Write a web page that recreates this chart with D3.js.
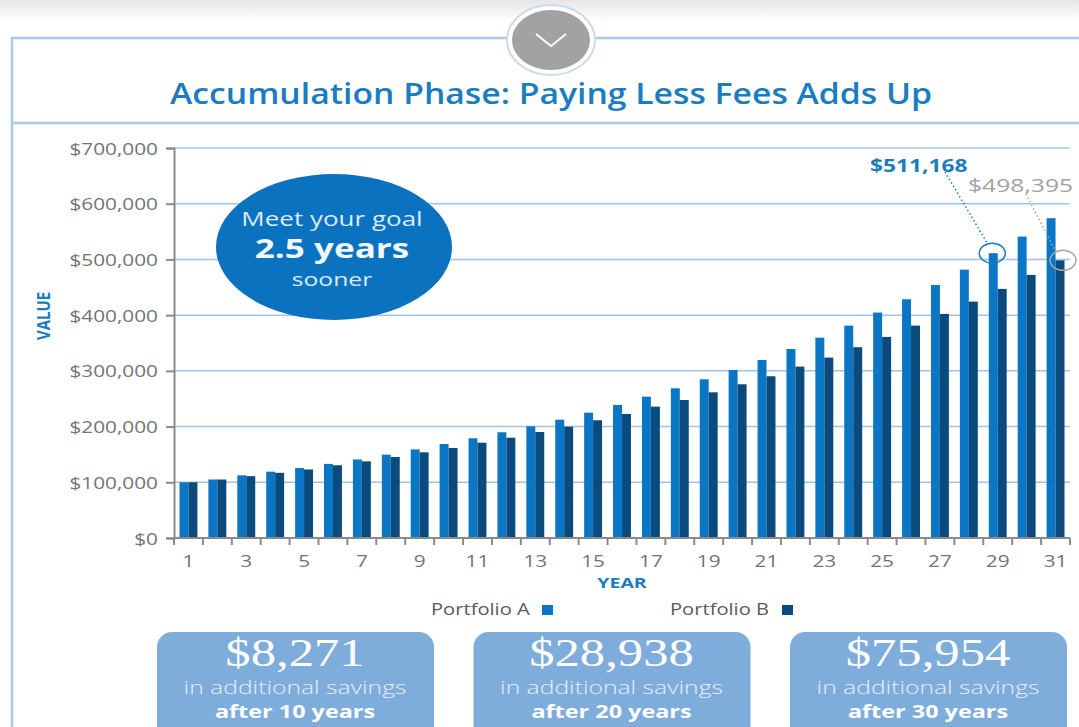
<!DOCTYPE html>
<html>
<head>
<meta charset="utf-8">
<script src="https://cdn.jsdelivr.net/npm/d3@7"></script>
<style>
  body { margin: 0; background: #fff; }
  svg { display: block; font-family: "Open Sans", sans-serif; }
</style>
</head>
<body>
<svg id="chart" width="1079" height="727"></svg>
<script>
var years = d3.range(1, 32);
var portfolioA = [100000, 105000, 112500, 119000, 125700, 133000, 141000, 149600, 159000, 168700,
  179000, 189800, 200500, 212400, 225000, 238800, 253700, 268700, 284800, 301600,
  319600, 339300, 359600, 381200, 404600, 428500, 454200, 481700, 511168, 541000, 574000];
var portfolioB = [100000, 105000, 111000, 117000, 123000, 130500, 137600, 145400, 153800, 161600,
  171000, 180000, 190300, 199800, 211300, 222600, 235800, 247700, 261500, 275900,
  290300, 307600, 323800, 342400, 360900, 381200, 402200, 424300, 447100, 472200, 498395];
var seriesNames = ["Portfolio A", "Portfolio B"];
var yTicks = [0, 100000, 200000, 300000, 400000, 500000, 600000, 700000];
var savings = ["$8,271", "$28,938", "$75,954"];
var savingsYears = ["after 10 years", "after 20 years", "after 30 years"];

var colorA = "#0b76c4";
var colorB = "#0a4a7d";
var blue = "#1a7cc1";
var SX = 1.3; // reference is stretched sideways

var svg = d3.select("#chart");

// top shadow
var defs = svg.append("defs");
var grad = defs.append("linearGradient").attr("id", "shade").attr("x1", 0).attr("y1", 0).attr("x2", 0).attr("y2", 1);
grad.append("stop").attr("offset", "0%").attr("stop-color", "#e6e6e6");
grad.append("stop").attr("offset", "100%").attr("stop-color", "#ffffff");
svg.append("rect").attr("x", 0).attr("y", 0).attr("width", 1079).attr("height", 22).attr("fill", "url(#shade)");

// frame
svg.append("path")
  .attr("d", "M1079,38 H12 V727")
  .attr("fill", "none").attr("stroke", "#a9cbe8").attr("stroke-width", 2.5);
svg.append("line").attr("x1", 12).attr("x2", 1079).attr("y1", 123).attr("y2", 123)
  .attr("stroke", "#a9cbe8").attr("stroke-width", 2.5);

// chevron button
svg.append("ellipse").attr("cx", 551).attr("cy", 40).attr("rx", 44).attr("ry", 35)
  .attr("fill", "#fff").attr("stroke", "#c9dcee").attr("stroke-width", 2);
svg.append("ellipse").attr("cx", 551).attr("cy", 40).attr("rx", 39).attr("ry", 30).attr("fill", "#a2a2a2");
svg.append("path").attr("d", "M536,34 L551,46 L566,34")
  .attr("fill", "none").attr("stroke", "#fff").attr("stroke-width", 2);

function sText(x, y, str) {
  return svg.append("text")
    .attr("transform", "translate(" + x + "," + y + ") scale(" + SX + ",1)")
    .text(str);
}

// title
svg.append("text")
  .attr("x", 170).attr("y", 104)
  .attr("textLength", 762).attr("lengthAdjust", "spacingAndGlyphs")
  .attr("fill", blue).attr("font-size", 29).attr("font-weight", 600)
  .text("Accumulation Phase: Paying Less Fees Adds Up");

// scales
var x = d3.scaleBand().domain(years).range([174, 1070]).paddingInner(0.38).paddingOuter(0.19);
var xSub = d3.scaleBand().domain(seriesNames).range([0, x.bandwidth()]);
var y = d3.scaleLinear().domain([0, 700000]).range([538, 148]);

// grid
svg.append("g").selectAll("line").data(yTicks.slice(1)).join("line")
  .attr("x1", 174).attr("x2", 1070)
  .attr("y1", function(d) { return y(d); }).attr("y2", function(d) { return y(d); })
  .attr("stroke", "#9fc4e7").attr("stroke-width", 1.5);

// bars
var rows = years.map(function(yr, i) { return { year: yr, values: [portfolioA[i], portfolioB[i]] }; });
var groups = svg.append("g").selectAll("g").data(rows).join("g")
  .attr("transform", function(d) { return "translate(" + x(d.year) + ",0)"; });
groups.selectAll("rect").data(function(d) { return d.values.map(function(v, j) { return { name: seriesNames[j], v: v }; }); })
  .join("rect")
  .attr("x", function(d) { return xSub(d.name); })
  .attr("width", xSub.bandwidth())
  .attr("y", function(d) { return y(d.v); })
  .attr("height", function(d) { return y(0) - y(d.v); })
  .attr("fill", function(d) { return d.name === "Portfolio A" ? colorA : colorB; });

// y axis
var yAxis = svg.append("g").attr("transform", "translate(174,0)")
  .call(d3.axisLeft(y).tickValues(yTicks).tickSize(8).tickPadding(0)
    .tickFormat(function(d) { return "$" + d3.format(",")(d); }));
yAxis.attr("font-family", null).attr("font-size", null);
yAxis.select(".domain").attr("stroke", "#8a8a8a").attr("stroke-width", 2);
yAxis.selectAll(".tick line").attr("stroke", "#8a8a8a").attr("stroke-width", 2);
yAxis.selectAll(".tick text")
  .attr("x", null).attr("dy", null)
  .attr("transform", "translate(-16,6) scale(" + SX + ",1)")
  .attr("fill", "#747474").attr("font-size", 16);

// x axis: boundary ticks + odd-year labels
var xAxis = svg.append("g").attr("transform", "translate(0,538)");
xAxis.append("line").attr("x1", 174).attr("x2", 1070).attr("stroke", "#8a8a8a").attr("stroke-width", 2);
xAxis.selectAll("line.tk").data(d3.range(0, years.length + 1)).join("line").attr("class", "tk")
  .attr("x1", function(i) { return 174 + i * x.step(); })
  .attr("x2", function(i) { return 174 + i * x.step(); })
  .attr("y1", 0).attr("y2", 7)
  .attr("stroke", "#8a8a8a").attr("stroke-width", 2);
xAxis.selectAll("text").data(years.filter(function(d) { return d % 2 === 1; })).join("text")
  .attr("transform", function(d) { return "translate(" + (x(d) + x.bandwidth() / 2) + ",29) scale(" + SX + ",1)"; })
  .attr("text-anchor", "middle").attr("fill", "#747474").attr("font-size", 16)
  .text(function(d) { return d; });

// axis titles
svg.append("text")
  .attr("transform", "translate(50,316) rotate(-90) scale(1," + SX + ")")
  .attr("text-anchor", "middle").attr("fill", blue).attr("font-size", 14).attr("font-weight", 700)
  .attr("textLength", 48).attr("lengthAdjust", "spacingAndGlyphs")
  .text("VALUE");
sText(622, 588, "YEAR").attr("text-anchor", "middle").attr("fill", blue)
  .attr("font-size", 15).attr("font-weight", 700);

// goal bubble
svg.append("ellipse").attr("cx", 334).attr("cy", 247).attr("rx", 118).attr("ry", 73).attr("fill", "#0b72bf");
sText(332, 226, "Meet your goal").attr("text-anchor", "middle").attr("fill", "#dcebf7").attr("font-size", 20);
sText(332, 258, "2.5 years").attr("text-anchor", "middle").attr("fill", "#f2f7fc").attr("font-size", 27).attr("font-weight", 700);
sText(332, 286, "sooner").attr("text-anchor", "middle").attr("fill", "#dcebf7").attr("font-size", 19);

// callouts
var iA = years.indexOf(29), iB = years.indexOf(31);
var cxA = x(29) + xSub("Portfolio A") + xSub.bandwidth() / 2, cyA = y(portfolioA[iA]);
var cxB = x(31) + xSub("Portfolio B") + xSub.bandwidth() / 2, cyB = y(portfolioB[iB]);
svg.append("ellipse").attr("cx", cxA - 1).attr("cy", cyA).attr("rx", 13).attr("ry", 10)
  .attr("fill", "none").attr("stroke", blue).attr("stroke-width", 1.5);
svg.append("line").attr("x1", 945).attr("y1", 172).attr("x2", cxA - 6).attr("y2", cyA - 10)
  .attr("stroke", blue).attr("stroke-width", 1.5).attr("stroke-dasharray", "1.5,2.5");
sText(870, 172, "$511,168").attr("fill", blue).attr("font-size", 17.5).attr("font-weight", 700);

svg.append("ellipse").attr("cx", cxB + 3).attr("cy", cyB).attr("rx", 13).attr("ry", 10)
  .attr("fill", "none").attr("stroke", "#a8a8a8").attr("stroke-width", 1.5);
svg.append("line").attr("x1", 1026).attr("y1", 194).attr("x2", cxB - 4).attr("y2", cyB - 8)
  .attr("stroke", "#a8a8a8").attr("stroke-width", 1.5).attr("stroke-dasharray", "1.5,2.5");
sText(968, 192, "$498,395").attr("fill", "#a2a2a2").attr("font-size", 19);

// legend
sText(431, 615, "Portfolio A").attr("fill", "#5a5a5a").attr("font-size", 15.5);
svg.append("rect").attr("x", 542).attr("y", 605).attr("width", 11).attr("height", 10).attr("fill", colorA);
sText(670, 615, "Portfolio B").attr("fill", "#5a5a5a").attr("font-size", 15.5);
svg.append("rect").attr("x", 782).attr("y", 605).attr("width", 11).attr("height", 10).attr("fill", colorB);

// savings boxes
var boxX = d3.scalePoint().domain(savings).range([157, 790]);
var boxes = svg.append("g").selectAll("g").data(savings).join("g")
  .attr("transform", function(d) { return "translate(" + boxX(d) + ",632)"; });
boxes.append("rect").attr("width", 277).attr("height", 110).attr("rx", 15)
  .attr("fill", "#7eaddc");
boxes.append("text")
  .attr("transform", "translate(138,34) scale(" + SX + ",1)")
  .attr("text-anchor", "middle").attr("fill", "#fff")
  .style("font-family", "'Liberation Serif', 'DejaVu Serif', serif").attr("font-size", 39)
  .text(function(d) { return d; });
boxes.append("text")
  .attr("transform", "translate(138,62) scale(" + SX + ",1)")
  .attr("text-anchor", "middle").attr("fill", "#e6f0fa").attr("font-size", 19).attr("font-weight", 300)
  .text("in additional savings");
boxes.append("text")
  .attr("transform", "translate(138,86) scale(" + SX + ",1)")
  .attr("text-anchor", "middle").attr("fill", "#fff").attr("font-size", 18).attr("font-weight", 700)
  .text(function(d, i) { return savingsYears[i]; });
</script>
</body>
</html>
